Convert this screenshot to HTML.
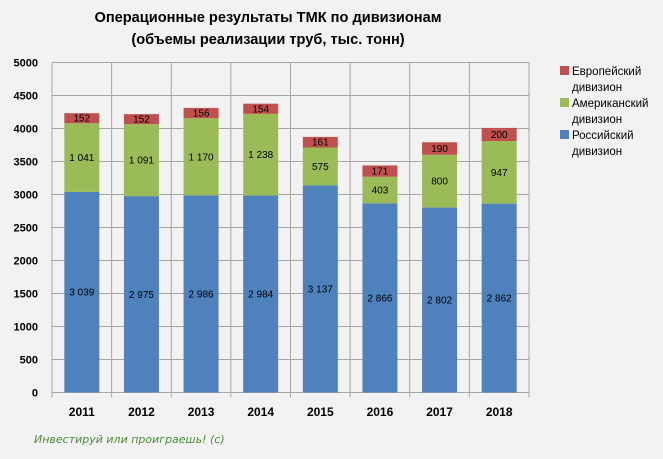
<!DOCTYPE html>
<html><head><meta charset="utf-8"><style>
html,body{margin:0;padding:0;background:#f2f2f2;}
svg{display:block;font-family:"Liberation Sans","DejaVu Sans",sans-serif;}
</style></head><body>
<svg width="663" height="459" viewBox="0 0 663 459" xmlns="http://www.w3.org/2000/svg">
<rect width="663" height="459" fill="#f2f2f2"/>
<text x="268" y="22" font-size="14.6" font-weight="bold" text-anchor="middle" fill="#000">Операционные результаты ТМК по дивизионам</text>
<text x="268" y="44" font-size="14.6" font-weight="bold" text-anchor="middle" fill="#000">(объемы реализации труб, тыс. тонн)</text>
<g stroke="#a6a6a6" stroke-width="1" id="grid"></g>
<g id="bars"></g>
<g font-size="11" font-weight="bold" text-anchor="end" id="yl"></g>
<g font-size="12" font-weight="bold" text-anchor="middle" id="xl"></g>
<g font-size="11.5" fill="#000">
<rect x="560" y="66" width="9" height="9" fill="#c0504d"/><text x="572" y="75">Европейский</text>
<text x="572" y="91">дивизион</text>
<rect x="560" y="98" width="9" height="9" fill="#9bbb59"/><text x="572" y="107">Американский</text>
<text x="572" y="123">дивизион</text>
<rect x="560" y="130" width="9" height="9" fill="#4f81bd"/><text x="572" y="139">Российский</text>
<text x="572" y="155">дивизион</text>
</g>
<text x="34" y="443" font-size="11" font-style="italic" fill="#4a8a3a" font-family="'DejaVu Sans',sans-serif">Инвестируй или проиграешь! (с)</text>
<script>
var ns="http://www.w3.org/2000/svg";
function el(p,t,a,txt){var e=document.createElementNS(ns,t);for(var k in a)e.setAttribute(k,a[k]);if(txt!=null)e.textContent=txt;document.getElementById(p).appendChild(e);}
var L=52,R=529,Y0=392.5,k=0.066,cw=(R-L)/8;
for(var v=0;v<=5000;v+=500){var y=Y0-v*k;el("grid","line",{x1:L,x2:R,y1:y,y2:y});el("yl","text",{x:L-14,y:y+4},String(v));}
for(var i=0;i<=8;i++){var x=L+i*cw;el("grid","line",{x1:x,x2:x,y1:Y0-5000*k,y2:Y0+5});}
var d=[[2011,3039,1041,152],[2012,2975,1091,152],[2013,2986,1170,156],[2014,2984,1238,154],[2015,3137,575,161],[2016,2866,403,171],[2017,2802,800,190],[2018,2862,947,200]];
var cols=["#4f81bd","#9bbb59","#c0504d"];
function fmt(n){return n>=1000?String(n).replace(/(\d)(\d{3})$/,"$1 $2"):String(n);}
d.forEach(function(r,i){var cx=L+(i+0.5)*cw,base=0;
for(var j=0;j<3;j++){var v=r[j+1];var y1=Y0-(base+v)*k;el("bars","rect",{x:cx-17.5,y:y1,width:35,height:v*k,fill:cols[j]});
el("bars","text",{x:cx,y:y1+v*k/2+3.5,"font-size":"10","text-anchor":"middle",fill:"#000"},fmt(v));base+=v;}
el("xl","text",{x:cx,y:416},String(r[0]));});
</script>
</svg>
</body></html>
